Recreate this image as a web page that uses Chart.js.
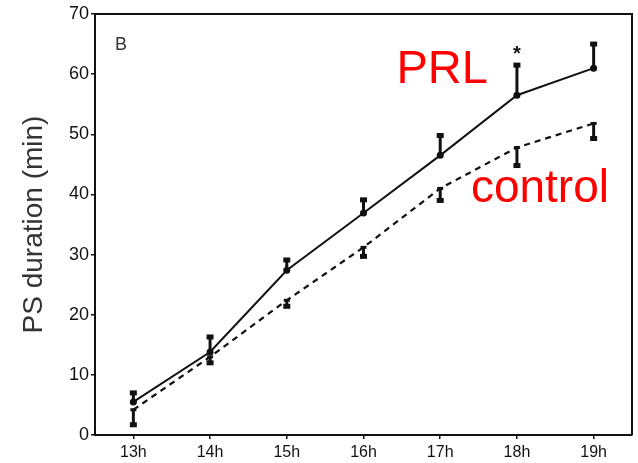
<!DOCTYPE html>
<html>
<head>
<meta charset="utf-8">
<script src="https://cdn.jsdelivr.net/npm/chart.js@4/dist/chart.umd.min.js"></script>
<style>
html,body{margin:0;padding:0;background:#fff;}
#wrap{width:638px;height:463px;position:relative;}
</style>
</head>
<body>
<div id="wrap"><canvas id="c" width="638" height="463"></canvas></div>
<script>
const categories = ["13h","14h","15h","16h","17h","18h","19h"];
const prlMean  = [5.5, 13.8, 27.4, 36.9, 46.5, 56.5, 61.0];
const prlErr   = [1.5, 2.5, 1.7, 2.2, 3.3, 5.0, 4.0];
const ctrlMean = [4.2, 13.0, 22.4, 31.2, 41.0, 47.8, 51.8];
const ctrlErr  = [2.5, 1.0, 1.0, 1.5, 2.0, 3.0, 2.5];
const yTicks   = [0,10,20,30,40,50,60,70];

const annotations = {
  plugin: {
    id: 'extras',
    afterDatasetsDraw(chart) {
      const ctx = chart.ctx;
      const xs = chart.scales.x, ys = chart.scales.y;
      const area = chart.chartArea;
      ctx.save();
      ctx.strokeStyle = '#111';
      ctx.lineWidth = 2;
      ctx.beginPath();
      ctx.moveTo(area.left, area.top);
      ctx.lineTo(area.right, area.top);
      ctx.lineTo(area.right, area.bottom);
      ctx.stroke();
      function bars(means, errs, dir) {
        means.forEach((m, i) => {
          const x = xs.getPixelForValue(i);
          const y0 = ys.getPixelForValue(m);
          const y1 = ys.getPixelForValue(m + dir * errs[i]);
          ctx.fillStyle = '#111';
          ctx.strokeStyle = '#111';
          ctx.lineWidth = 3;
          ctx.beginPath();
          ctx.moveTo(x, y0);
          ctx.lineTo(x, y1);
          ctx.stroke();
          ctx.fillRect(x - 3.5, y1 - 2.5, 7, 5);
          ctx.fillRect(x - 3, y0 - 1.5, 6, 3);
        });
      }
      bars(prlMean, prlErr, 1);
      bars(ctrlMean, ctrlErr, -1);
      ctx.fillStyle = '#111';
      ctx.font = 'bold 20px "Liberation Sans", Arial, sans-serif';
      ctx.textAlign = 'center';
      ctx.textBaseline = 'middle';
      ctx.fillText('*', xs.getPixelForValue(5), ys.getPixelForValue(63.3));
      ctx.font = '18px "Liberation Sans", Arial, sans-serif';
      ctx.fillStyle = '#333';
      ctx.textAlign = 'left';
      ctx.textBaseline = 'alphabetic';
      ctx.fillText('B', area.left + 20, area.top + 36);
      ctx.fillStyle = '#ff0000';
      ctx.font = '47px "Liberation Sans", Arial, sans-serif';
      ctx.fillText('PRL', xs.getPixelForValue(3.43), ys.getPixelForValue(58.5));
      ctx.font = '46px "Liberation Sans", Arial, sans-serif';
      ctx.fillText('control', xs.getPixelForValue(4.4), ys.getPixelForValue(38.8));
      ctx.restore();
    }
  }
};

new Chart(document.getElementById('c'), {
  type: 'line',
  data: {
    labels: categories,
    datasets: [
      { label: 'PRL', data: prlMean, borderColor: '#111', backgroundColor: '#111',
        borderWidth: 2, pointRadius: 2.5, tension: 0, fill: false },
      { label: 'control', data: ctrlMean, borderColor: '#111', backgroundColor: '#111',
        borderWidth: 2.2, borderDash: [6,5], pointRadius: 0, tension: 0, fill: false }
    ]
  },
  options: {
    responsive: false,
    animation: false,
    devicePixelRatio: 1,
    layout: { padding: { top: 14, right: 6, left: 0, bottom: 0 } },
    plugins: { legend: { display: false }, tooltip: { enabled: false } },
    scales: {
      x: {
        offset: true,
        grid: { display: true, drawOnChartArea: false, drawTicks: true, tickLength: 4, color: '#111', lineWidth: 1.5 },
        border: { display: true, color: '#111', width: 2 },
        ticks: { color: '#111', font: { size: 16, family: '"Liberation Sans", Arial, sans-serif' }, padding: 4, maxRotation: 0 },
        afterFit(s) { s.height = 28; }
      },
      y: {
        min: 0, max: 70,
        afterBuildTicks(s) { s.ticks = yTicks.map(v => ({ value: v })); },
        grid: { display: true, drawOnChartArea: false, drawTicks: true, tickLength: 4, color: '#111', lineWidth: 1.5 },
        border: { display: true, color: '#111', width: 2 },
        ticks: { color: '#111', font: { size: 18, family: '"Liberation Sans", Arial, sans-serif' }, padding: 2 },
        title: { display: true, text: 'PS duration (min)', color: '#333',
                 font: { size: 28, family: '"Liberation Sans", Arial, sans-serif' }, padding: { top: 17, bottom: 0 } },
        afterFit(s) { s.width = 95; }
      }
    }
  },
  plugins: [annotations.plugin]
});
</script>
</body>
</html>
